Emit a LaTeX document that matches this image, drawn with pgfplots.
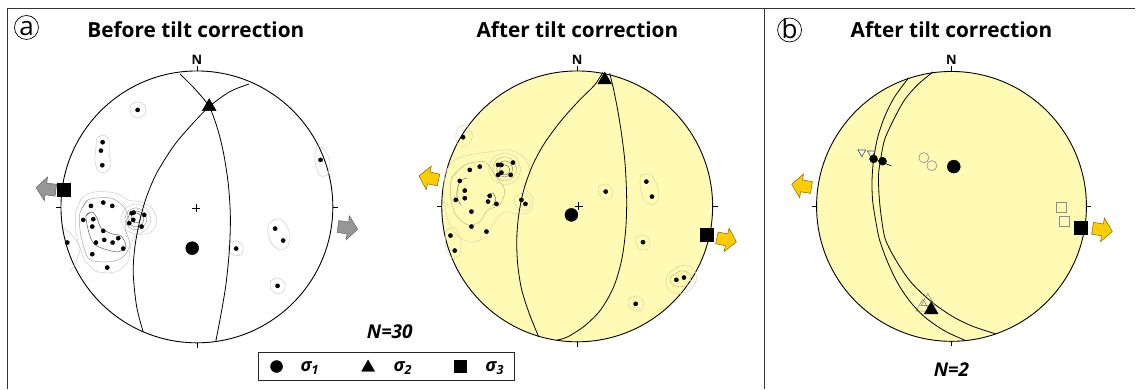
\documentclass[border=0pt]{standalone}
\usepackage{pgfplots}
\pgfplotsset{compat=1.18}
\usepackage{fontspec}
\setmainfont{Open Sans}
\definecolor{yel}{RGB}{255,250,180}
\definecolor{arrY}{RGB}{255,204,0}
\definecolor{arrYd}{RGB}{130,100,0}
\definecolor{arrG}{RGB}{150,150,150}
\definecolor{cL}{RGB}{205,205,205}
\definecolor{cM}{RGB}{165,165,165}
\definecolor{cD}{RGB}{95,95,95}
\definecolor{tL}{RGB}{222,214,170}
\definecolor{tM}{RGB}{195,188,140}
\definecolor{tD}{RGB}{110,110,90}
\begin{document}
\begin{tikzpicture}
\begin{axis}[
  width=1136pt, height=389pt, scale only axis,
  xmin=0, xmax=1136, ymin=0, ymax=389, y dir=reverse,
  hide axis, clip=false,
]
\path (axis cs:0,0) rectangle (axis cs:1136,389);
% frame
\addplot[draw=black!80, line width=1.2pt] coordinates {(7.5,389) (7.5,8.5) (1136,8.5)};
\addplot[draw=black!80, line width=1.2pt] coordinates {(765,8.5) (765,389)};

% primitives
\draw[line width=0.9pt, fill=white] (axis cs:197,207) circle[radius=136];
\draw[line width=0.9pt, fill=yel] (axis cs:577.5,206.5) circle[radius=135.5];
\draw[line width=0.9pt, fill=yel] (axis cs:952,206.5) circle[radius=135];

% ticks
\addplot[black, line width=0.7pt] coordinates {(197,71) (197,66)};
\addplot[black, line width=0.7pt] coordinates {(61,207) (56,207)};
\addplot[black, line width=0.7pt] coordinates {(333,207) (338,207)};
\addplot[black, line width=0.7pt] coordinates {(197,343) (197,348)};
\addplot[black, line width=0.7pt] coordinates {(577.5,71) (577.5,66)};
\addplot[black, line width=0.7pt] coordinates {(442,206.5) (437,206.5)};
\addplot[black, line width=0.7pt] coordinates {(713,206.5) (718,206.5)};
\addplot[black, line width=0.7pt] coordinates {(577.5,342) (577.5,347)};
\addplot[black, line width=0.7pt] coordinates {(952,71.5) (952,66.5)};
\addplot[black, line width=0.7pt] coordinates {(817,206.5) (812,206.5)};
\addplot[black, line width=0.7pt] coordinates {(1087,206.5) (1092,206.5)};
\addplot[black, line width=0.7pt] coordinates {(952,341.5) (952,346.5)};

% centre crosses
\addplot[black, line width=0.5pt] coordinates {(192.5,208) (200.5,208)};
\addplot[black, line width=0.5pt] coordinates {(196.5,204) (196.5,212)};
\addplot[black, line width=0.5pt] coordinates {(575,206.5) (583,206.5)};
\addplot[black, line width=0.5pt] coordinates {(579,202.5) (579,210.5)};

% ---------- contours net 1 ----------
\addplot[cL, line width=0.5pt, smooth] coordinates {(131,105)(138,102)(145,106)(145,114)(138,118)(131,114)(131,105)(138,102)};
\addplot[cL, line width=0.5pt, smooth] coordinates {(97,138)(104,135)(110,141)(109,152)(111,165)(106,172)(98,171)(95,160)(96,148)(97,138)(104,135)};
\addplot[cL, line width=0.5pt, smooth] coordinates {(76,212)(82,198)(95,192)(115,193)(128,200)(140,202)(152,208)(157,222)(150,233)(135,236)(130,250)(128,262)(116,272)(98,272)(86,262)(80,248)(76,232)(76,212)(82,198)};
\addplot[cM, line width=0.5pt, smooth] coordinates {(80,213)(88,200)(110,198)(122,205)(128,215)(125,228)(130,245)(122,258)(108,262)(90,260)(84,248)(80,230)(80,213)(88,200)};
\addplot[cD, line width=0.5pt, smooth] coordinates {(86,216)(92,212)(97,218)(101,228)(112,234)(121,236)(126,246)(118,252)(104,249)(94,244)(89,233)(86,216)(92,212)};
\addplot[cL, line width=0.5pt, smooth] coordinates {(151,219)(146.5,208.5)(136,204)(125.5,208.5)(121,219)(125.5,229.5)(136,234)(146.5,229.5)(151,219)(146.5,208.5)};
\addplot[cM, line width=0.5pt, smooth] coordinates {(147,219)(143.7,211.3)(136,208)(128.3,211.3)(125,219)(128.3,226.7)(136,230)(143.7,226.7)(147,219)(143.7,211.3)};
\addplot[cD!80, line width=0.5pt, smooth] coordinates {(144,219)(141.6,213.4)(136,211)(130.4,213.4)(128,219)(130.4,224.6)(136,227)(141.6,224.6)(144,219)(141.6,213.4)};
\addplot[cD, line width=0.5pt, smooth] coordinates {(141,218)(139.5,214.5)(136,213)(132.5,214.5)(131,218)(132.5,221.5)(136,223)(139.5,221.5)(141,218)(139.5,214.5)};
\addplot[cL, line width=0.5pt, smooth] coordinates {(269,224)(276,219)(284,222)(290,234)(288,246)(280,250)(272,244)(268,233)(269,224)(276,219)};
\addplot[cL, line width=0.5pt, smooth] coordinates {(230,243)(237,241)(243,246)(242,254)(235,256)(229,251)(230,243)(237,241)};
\addplot[cL, line width=0.5pt, smooth] coordinates {(271,281)(278,278)(285,283)(284,291)(277,294)(271,289)(271,281)(278,278)};
\addplot[cL, line width=0.5pt, smooth] coordinates {(318,146)(325,150)(330,162)(328,174)(321,176)(316,166)(315,154)(318,146)(325,150)};
\addplot[cL, line width=0.5pt, smooth] coordinates {(63,228)(72,235)(80,248)(76,262)(70,272)};

% ---------- contours net 2 ----------
\addplot[tL, line width=0.5pt, smooth] coordinates {(446,172)(455,160)(470,155)(490,152)(510,150)(525,158)(530,172)(524,186)(533,198)(530,212)(518,214)(505,212)(495,222)(485,238)(470,242)(458,236)(448,220)(444,195)(446,172)(455,160)};
\addplot[tM, line width=0.5pt, smooth] coordinates {(452,178)(465,165)(485,162)(495,175)(505,190)(500,205)(488,210)(480,222)(468,225)(456,215)(451,198)(452,178)(465,165)};
\addplot[tL, line width=0.5pt, smooth] coordinates {(521,169)(516.3,157.7)(505,153)(493.7,157.7)(489,169)(493.7,180.3)(505,185)(516.3,180.3)(521,169)(516.3,157.7)};
\addplot[tM, line width=0.5pt, smooth] coordinates {(517,169)(513.5,160.5)(505,157)(496.5,160.5)(493,169)(496.5,177.5)(505,181)(513.5,177.5)(517,169)(513.5,160.5)};
\addplot[tD!80, line width=0.5pt, smooth] coordinates {(513,169)(510.7,163.3)(505,161)(499.3,163.3)(497,169)(499.3,174.7)(505,177)(510.7,174.7)(513,169)(510.7,163.3)};
\addplot[tD, line width=0.5pt, smooth] coordinates {(510,170)(508.5,166.5)(505,165)(501.5,166.5)(500,170)(501.5,173.5)(505,175)(508.5,173.5)(510,170)(508.5,166.5)};
\addplot[tD, line width=0.5pt, smooth] coordinates {(467,178)(460,182)(457,195)(461,205)};
\addplot[tD, line width=0.5pt, smooth] coordinates {(487,196)(493,193)(496,200)(493,206)};
\addplot[tL, line width=0.5pt, smooth] coordinates {(516,196)(524,193)(530,200)(529,209)(520,210)(515,203)(516,196)(524,193)};
\addplot[tL, line width=0.5pt, smooth] coordinates {(600,186)(607,184)(613,190)(611,198)(604,199)(599,194)(600,186)(607,184)};
\addplot[tL, line width=0.5pt, smooth] coordinates {(641,176)(650,174)(657,184)(659,198)(653,205)(645,201)(641,190)(641,176)(650,174)};
\addplot[tL, line width=0.5pt, smooth] coordinates {(637,237)(644,235)(650,240)(649,248)(642,250)(637,245)(637,237)(644,235)};
\addplot[tL, line width=0.5pt, smooth] coordinates {(668,275)(680,266)(693,268)(697,280)(688,292)(674,293)(667,286)(668,275)(680,266)};
\addplot[tM, line width=0.5pt, smooth] coordinates {(671,277)(681,271)(690,274)(690,284)(680,287)(672,284)(671,277)(681,271)};
\addplot[tL, line width=0.5pt, smooth] coordinates {(629,299)(637,296)(644,302)(642,310)(634,311)(629,306)(629,299)(637,296)};
\addplot[tL, line width=0.5pt, smooth] coordinates {(458,128)(466,125)(473,135)(468,145)(459,146)(456,138)(458,128)(466,125)};
\addplot[tL, line width=0.5pt, smooth] coordinates {(447,230)(455,228)(461,240)(460,255)(452,258)(446,248)(447,230)(455,228)};

% ---------- great circles ----------
\addplot[black, line width=0.8pt, smooth] coordinates {(180,74)(195,89)(209.3,106.7)(218,130)(224,155)(228.5,185)(230.5,217)(229.5,250)(226,285)(221,315)(216,341)};
\addplot[black, line width=0.8pt, smooth] coordinates {(249.3,84)(230,91.7)(209.3,106.7)(190,126.7)(173.3,146.7)(156.7,173.3)(146.7,196.7)(140,220)(135,246.7)(133.3,273.3)(136.7,306.7)(143.3,332.3)};
\addplot[black, line width=0.8pt, smooth] coordinates {(603,72.5)(595,85)(580,100)(562,120)(545,143)(533,165)(524,190)(519,215)(517,240)(518,265)(522,290)(530,315)(539,337)};
\addplot[black, line width=0.8pt, smooth] coordinates {(610,73)(614,90)(618,110)(622,135)(625.5,165)(627,200)(626,230)(622,260)(614,287)(601,310)(585,326)(568,337)(556.7,340.5)};
\addplot[black, line width=0.8pt, smooth] coordinates {(909,78)(895,97)(885,117)(878,138)(874,160)(872.5,180)(873,200)(876,220)(880,240)(888,262)(898,283)(910,301)(925,317)(945,331)(966.7,341)};
\addplot[black, line width=0.8pt, smooth] coordinates {(933.3,72)(918,85)(905,100)(894,120)(885,140)(881,160)(879,175)(879.5,195)(881.7,216.7)(886,240)(898,263)(912,283)(931.7,301.7)(952,316)(972,326)(996,334)};
\addplot[black, line width=0.6pt] coordinates {(873.3,158.3) (891.7,166)};

% ---------- data points ----------
\addplot[only marks, mark=*, mark size=2.1pt, black] coordinates {
(137.7,110)(102.7,142.3)(101,150.7)(102.3,165.3)(320.7,160)
(91,206)(103.3,202.7)(112.3,206)(83.3,220)(93.3,219.3)(92.3,226.7)(103.3,231)(96,242.7)(104.3,240)(112.7,242.7)(118.3,238.3)(123.3,248.7)(92.3,254.3)(107.3,267.7)(67.3,242.7)
(131.7,213.3)(133.7,212.7)(144.3,215)(133.3,220)(129.3,223.3)(141.7,226.7)
(275.3,228.7)(283.3,240.7)(236.3,248.7)(277.7,286)};
\addplot[only marks, mark=*, mark size=2.1pt, black] coordinates {
(463.3,137.3)(470,170)(480,166.7)(460,181)(465,190.7)(456,200)(465,198.3)(490,196)(488.3,201.7)(496.7,204)
(471.7,211.7)(471.7,226.7)(486.7,231.7)(450.7,235.7)(455,250.7)(498.3,165)(501.7,165)(513.3,162.7)(501.7,172.7)(498.3,175)
(511,175)(521.7,200)(525.7,204)(606,191.7)(646.7,181.7)(652.3,196.7)(643.3,242.3)(676.7,280)(684.3,277.7)(636,304)};

% net 3 small symbols
\addplot[only marks, mark=triangle*, mark size=4.5pt, mark options={rotate=180, fill=white, draw=black!70, line width=0.6pt}] coordinates {(862.3,152.3)(871.7,153.3)};
\addplot[only marks, mark=*, mark size=4pt, black] coordinates {(874,159)(883,161.3)};
\addplot[only marks, mark=o, mark size=5pt, mark options={draw=black!45, line width=0.6pt}] coordinates {(924.3,157.7)(932.3,165.7)};
\addplot[only marks, mark=square, mark size=5pt, mark options={draw=black!45, line width=0.6pt}] coordinates {(1061.7,207.7)(1065,221.7)};
\addplot[only marks, mark=triangle, mark size=8pt, mark options={draw=black!45, line width=0.6pt}] coordinates {(928.3,301.7)(923.3,307.3)};

% principal stresses
\addplot[only marks, mark=*, mark size=6.5pt, black] coordinates {(192.3,248.3)(571.7,215)(954.3,166.7)};
\addplot[only marks, mark=triangle*, mark size=8pt, black] coordinates {(209.3,106.7)(605,80)(931.7,310)};
\addplot[only marks, mark=square*, mark size=6.5pt, black] coordinates {(64,190)(706.7,235)(1081.7,228.3)};

% ---------- arrows ----------
\addplot[fill=arrG, draw=black!60, line width=0.5pt] coordinates {(357.9,229.3)(346.4,239.9)(347.2,234.0)(337.3,232.6)(338.9,220.7)(348.8,222.1)(349.6,216.1)(357.9,229.3)};
\addplot[fill=arrG, draw=black!60, line width=0.5pt] coordinates {(36.1,187.7)(47.6,177.1)(46.8,183.1)(56.7,184.4)(55.1,196.3)(45.2,194.9)(44.4,200.9)(36.1,187.7)};
\addplot[fill=arrY, draw=arrYd, line width=0.5pt] coordinates {(736.8,242.1)(724.5,251.7)(725.8,245.9)(716.0,243.8)(718.5,232.1)(728.2,234.1)(729.5,228.3)(736.8,242.1)};
\addplot[fill=arrY, draw=arrYd, line width=0.5pt] coordinates {(419.2,175.9)(431.5,166.3)(430.2,172.1)(440.0,174.2)(437.5,185.9)(427.8,183.9)(426.5,189.7)(419.2,175.9)};
\addplot[fill=arrY, draw=arrYd, line width=0.5pt] coordinates {(1112.9,231.6)(1101.1,241.8)(1102.0,235.9)(1092.2,234.3)(1094.1,222.5)(1104.0,224.1)(1104.9,218.2)(1112.9,231.6)};
\addplot[fill=arrY, draw=arrYd, line width=0.5pt] coordinates {(792.1,184.4)(803.9,174.2)(803.0,180.1)(812.8,181.7)(810.9,193.5)(801.0,191.9)(800.1,197.8)(792.1,184.4)};

% ---------- legend ----------
\addplot[draw=black!85, line width=0.8pt] coordinates {(258.3,352.7)(514.3,352.7)(514.3,380.7)(258.3,380.7)(258.3,352.7)};
\addplot[only marks, mark=*, mark size=6pt, black] coordinates {(276.7,366.7)};
\addplot[only marks, mark=triangle*, mark size=7.5pt, black] coordinates {(368.3,367.7)};
\addplot[only marks, mark=square*, mark size=6pt, black] coordinates {(460,366.7)};

% ---------- texts ----------
\node[font=\fontsize{20.8}{24}\selectfont\bfseries, anchor=base] at (axis cs:196,38) {Before tilt correction};
\node[font=\fontsize{20.8}{24}\selectfont\bfseries, anchor=base] at (axis cs:577.7,38) {After tilt correction};
\node[font=\fontsize{20.8}{24}\selectfont\bfseries, anchor=base] at (axis cs:952,38) {After tilt correction};
\node[font=\fontsize{13}{15}\selectfont\bfseries, anchor=base] at (axis cs:197,65) {N};
\node[font=\fontsize{13}{15}\selectfont\bfseries, anchor=base] at (axis cs:577.5,65) {N};
\node[font=\fontsize{13}{15}\selectfont\bfseries, anchor=base] at (axis cs:952,65) {N};
\node[font=\fontsize{19}{22}\selectfont\bfseries\itshape, anchor=base] at (axis cs:390,339) {N=30};
\node[font=\fontsize{19}{22}\selectfont\bfseries\itshape, anchor=base] at (axis cs:952,377) {N=2};
\node[font=\fontsize{18}{22}\selectfont\bfseries\itshape, anchor=base] at (axis cs:310,372) {σ\textsubscript{1}};
\node[font=\fontsize{18}{22}\selectfont\bfseries\itshape, anchor=base] at (axis cs:403,372) {σ\textsubscript{2}};
\node[font=\fontsize{18}{22}\selectfont\bfseries\itshape, anchor=base] at (axis cs:495,372) {σ\textsubscript{3}};
\draw[line width=0.7pt] (axis cs:26.5,27.5) circle[radius=12];
\node[font=\fontsize{26}{28}\selectfont, anchor=base] at (axis cs:26.5,36) {a};
\draw[line width=0.7pt] (axis cs:790,30) circle[radius=12];
\node[font=\fontsize{26}{28}\selectfont, anchor=base] at (axis cs:790,39) {b};
\end{axis}
\end{tikzpicture}
\end{document}
